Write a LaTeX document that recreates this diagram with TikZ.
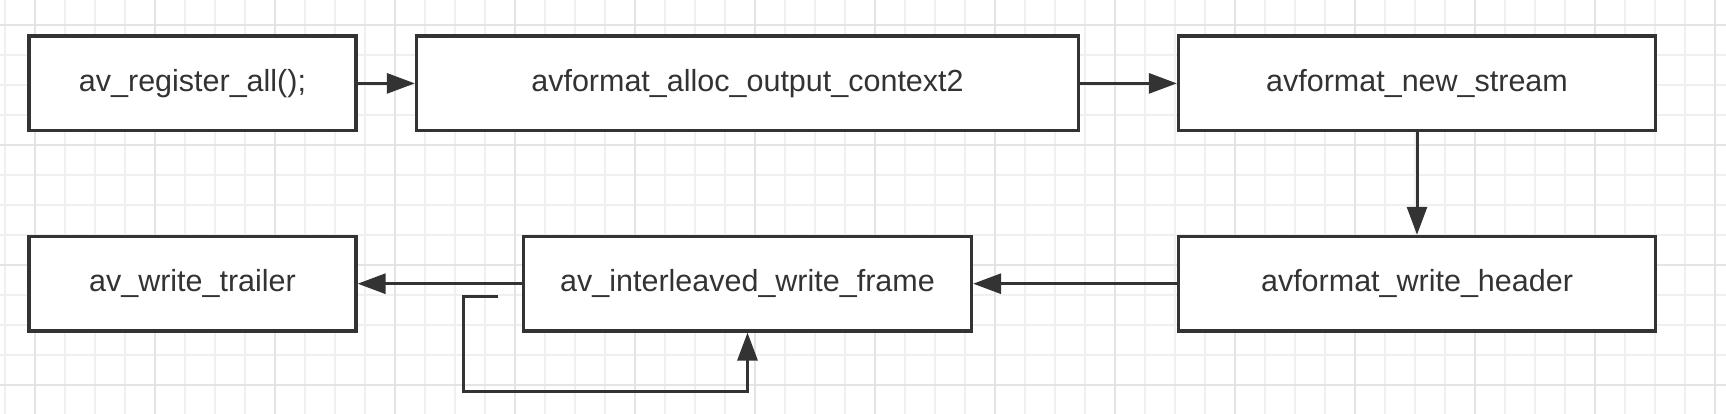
\documentclass[tikz,border=0pt]{standalone}
\usepackage{fontspec}
\setmainfont{Liberation Sans}
\usetikzlibrary{arrows.meta}
\definecolor{ink}{HTML}{333333}
\definecolor{gridminor}{HTML}{F0F0F0}
\definecolor{gridmajor}{HTML}{E4E4E4}
\tikzset{
  box/.style={draw=ink, line width=3.3pt, fill=white, rectangle, minimum height=94.5pt,
    inner sep=0pt, font=\fontsize{30.5}{36}\selectfont, text=ink},
  conn/.style={draw=ink, line width=3pt, -{Triangle[length=28pt,width=20pt]}, color=ink},
}
\begin{document}
\begin{tikzpicture}[x=1pt,y=-1pt]
\useasboundingbox (0,0) rectangle (1726,414);
\fill[white] (0,0) rectangle (1726,414);
% grid
\foreach \gx in {5,35,...,1725} {\draw[gridminor, line width=1.2pt] (\gx,0) -- (\gx,414);}
\foreach \gy in {25,55,...,414} {\draw[gridminor, line width=1.2pt] (0,\gy) -- (1726,\gy);}
\foreach \gx in {35,155,...,1725} {\draw[gridmajor, line width=1.5pt] (\gx,0) -- (\gx,414);}
\foreach \gy in {25,145,...,414} {\draw[gridmajor, line width=1.5pt] (0,\gy) -- (1726,\gy);}
% nodes
\node[box, minimum width=327pt] (a) at (192.5,83.4) {av\_register\_all();};
\node[box, minimum width=662pt] (b) at (747.5,83.4) {avformat\_alloc\_output\_context2};
\node[box, minimum width=477pt] (c) at (1417,83.4) {avformat\_new\_stream};
\node[box, minimum width=477pt] (d) at (1417,283.7) {avformat\_write\_header};
\node[box, minimum width=448pt] (e) at (747.5,283.7) {av\_interleaved\_write\_frame};
\node[box, minimum width=327pt] (f) at (192.5,283.7) {av\_write\_trailer};
% connectors
\draw[conn] (a) -- (b);
\draw[conn] (b) -- (c);
\draw[conn] (c) -- (d);
\draw[conn] (d) -- (e);
\draw[conn] (e) -- (f);
\coordinate (ls) at (498,296);
\coordinate (lc) at (747.5,391.5);
\draw[conn] (ls) -- ++(-35,0) |- (lc) -- (e.south);
\end{tikzpicture}
\end{document}
